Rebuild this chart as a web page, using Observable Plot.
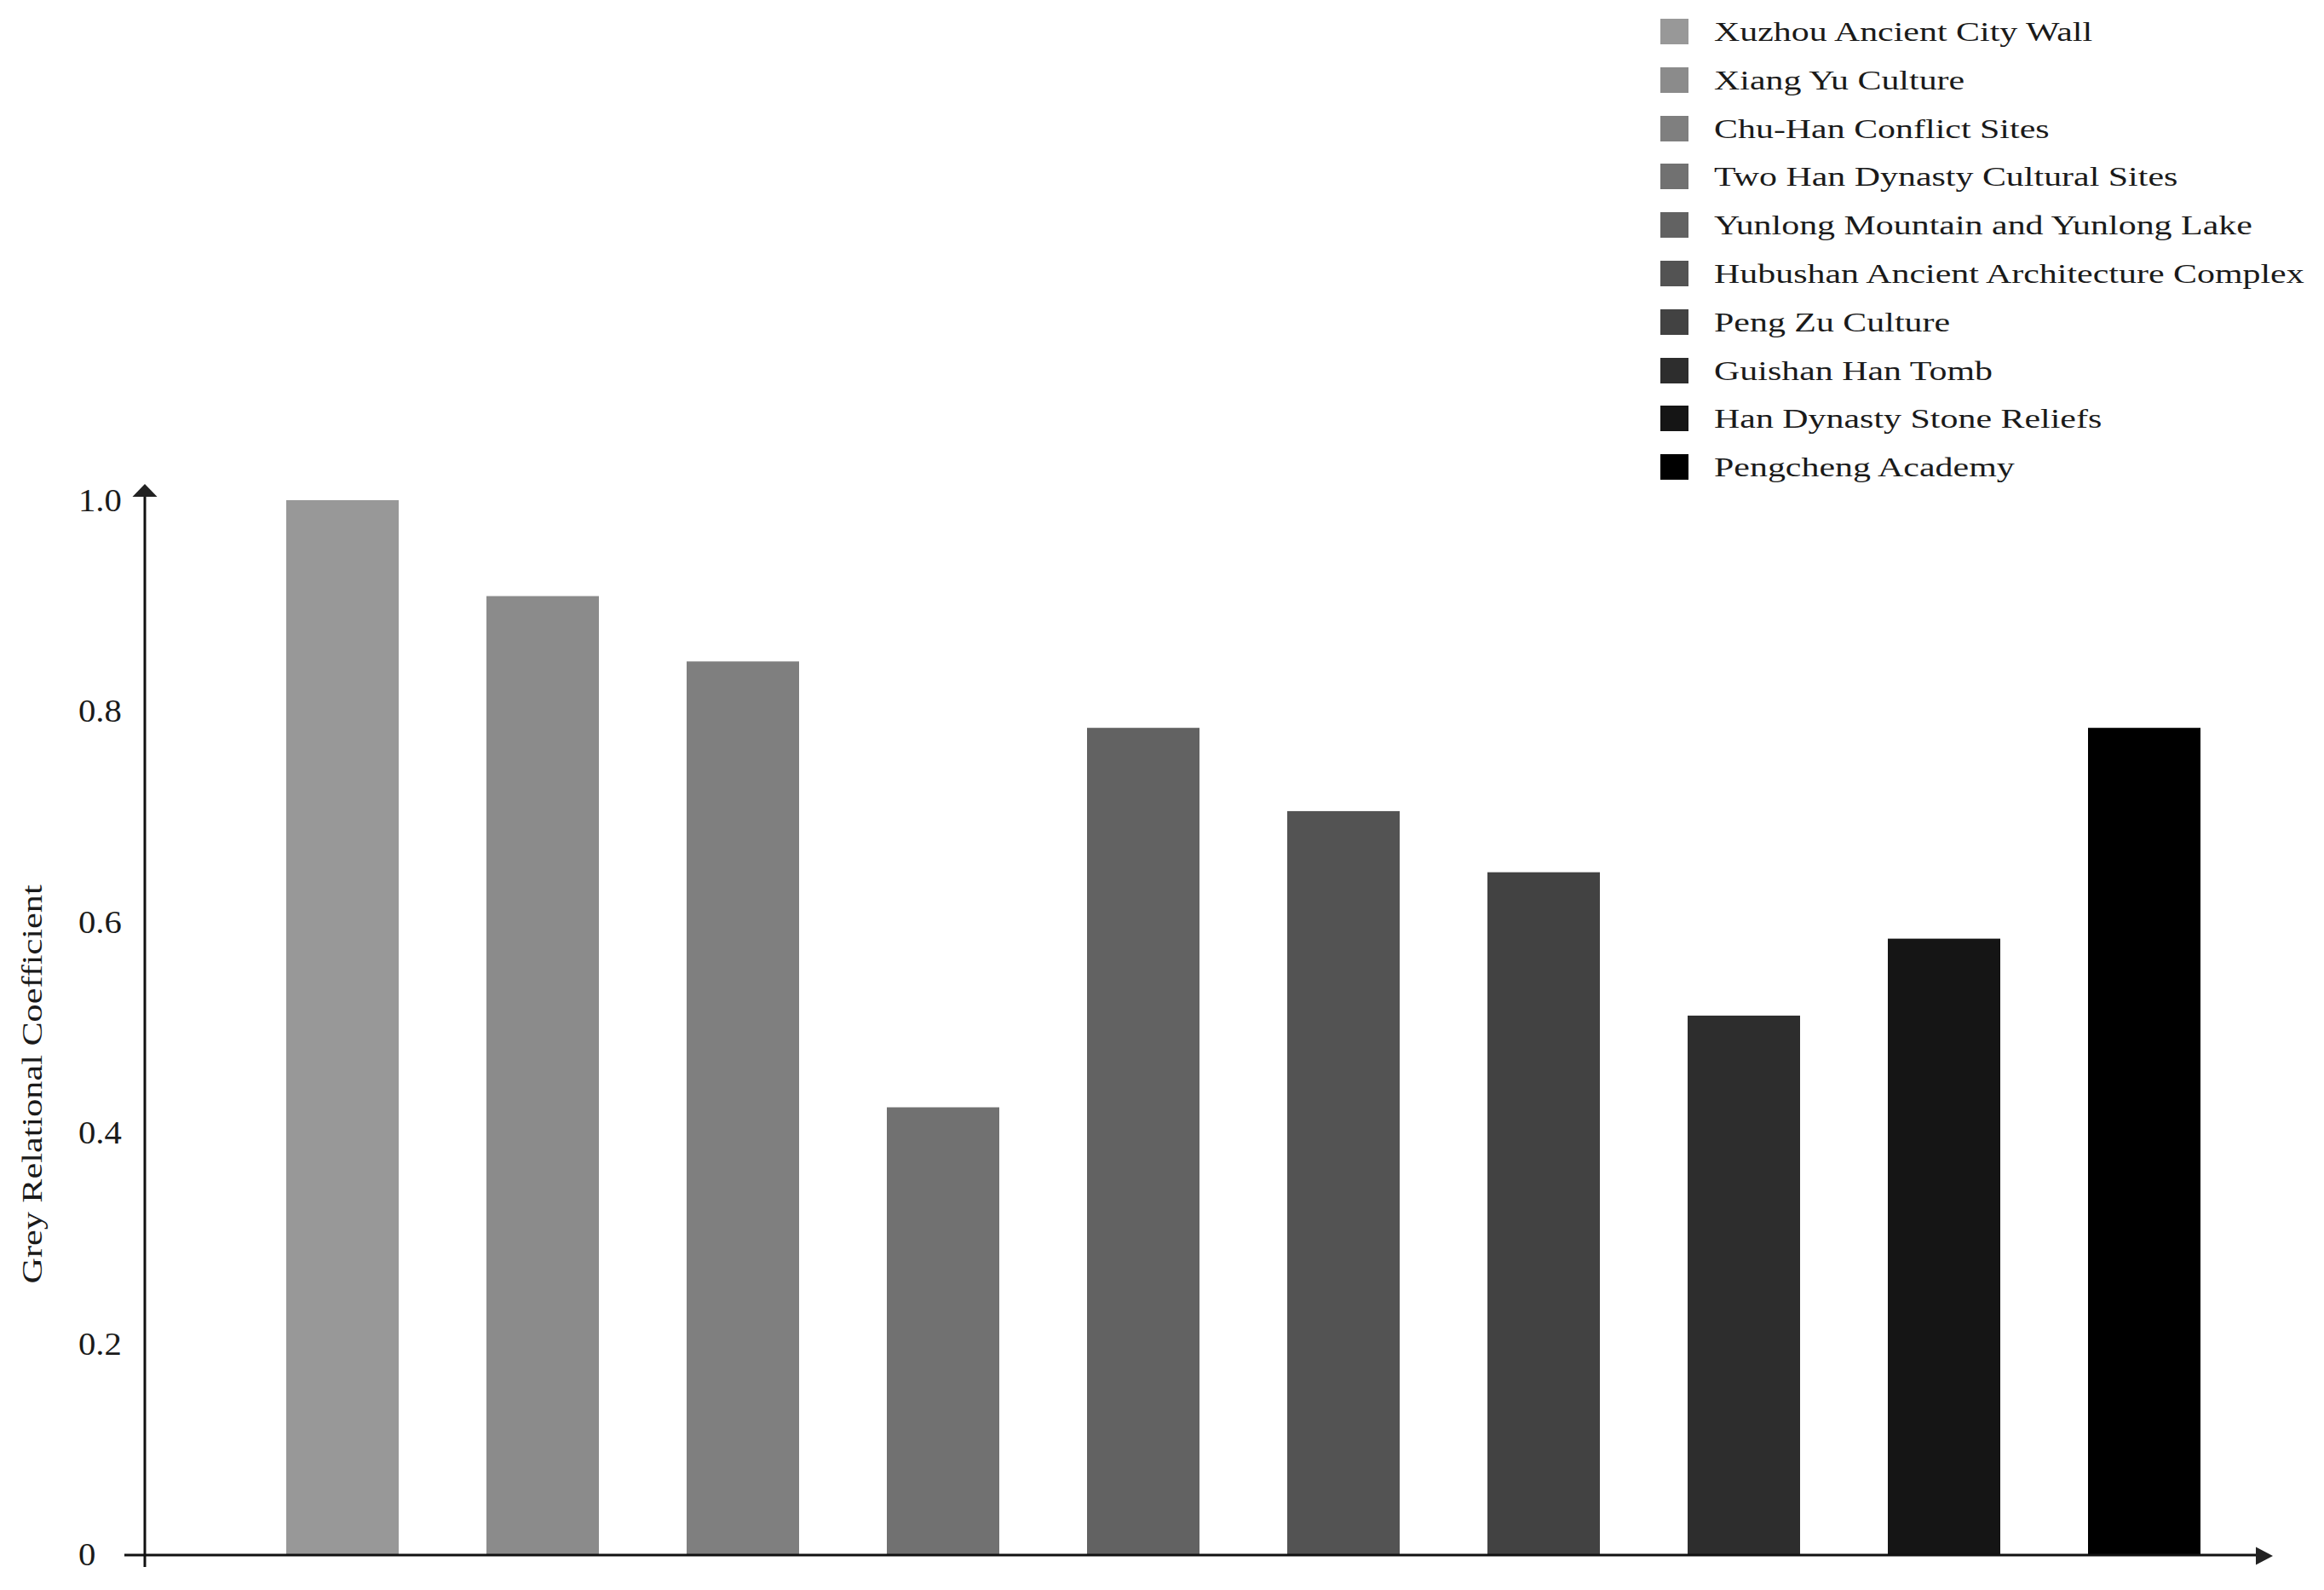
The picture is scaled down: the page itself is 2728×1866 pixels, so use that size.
<!DOCTYPE html>
<html>
<head>
<meta charset="utf-8">
<script src="https://cdn.jsdelivr.net/npm/d3@7"></script>
<script src="https://cdn.jsdelivr.net/npm/@observablehq/plot@0.6"></script>
<style>
  html, body { margin: 0; padding: 0; background: #fff; }
  #wrap { position: relative; width: 2728px; height: 1866px; overflow: hidden; }
  #legend { position: absolute; left: 1949px; top: 0; font-family: "Liberation Serif", "Times New Roman", serif; font-size: 32px; color: #1a1a1a; }
  .row { position: absolute; left: 0; height: 30px; white-space: nowrap; }
  .sw { position: absolute; left: 0; top: 0; width: 33px; height: 30px; }
  .lb { position: absolute; left: 63px; top: 0; line-height: 30px; transform: scaleX(1.31); transform-origin: left center; }
</style>
</head>
<body>
<div id="wrap"><div id="legend"></div></div>
<script>
// ---- data ----
const sites = [
  "Xuzhou Ancient City Wall",
  "Xiang Yu Culture",
  "Chu-Han Conflict Sites",
  "Two Han Dynasty Cultural Sites",
  "Yunlong Mountain and Yunlong Lake",
  "Hubushan Ancient Architecture Complex",
  "Peng Zu Culture",
  "Guishan Han Tomb",
  "Han Dynasty Stone Reliefs",
  "Pengcheng Academy"
];
const values = [1.000, 0.909, 0.847, 0.424, 0.784, 0.705, 0.647, 0.511, 0.584, 0.784];
const colors = ["#989898", "#8b8b8b", "#7f7f7f", "#717171", "#626262", "#535353", "#424242", "#2d2d2d", "#151515", "#000000"];
const tickValues = [0, 0.2, 0.4, 0.6, 0.8, 1.0];
const tickLabels = ["0", "0.2", "0.4", "0.6", "0.8", "1.0"];
const yLabel = "Grey Relational Coefficient";

const data = sites.map((s, i) => ({site: s, value: values[i]}));
const FONT = "'Liberation Serif', 'Times New Roman', serif";

// custom axis lines with arrowheads, tick labels and title, positioned from the scales
function axes(index, scales, vals, dims) {
  const g = d3.create("svg:g");
  const x0 = dims.marginLeft;
  const yZero = scales.y(0);
  const yOne = scales.y(1);
  const xEnd = dims.width - dims.marginRight;
  const col = "#111";
  // y axis
  g.append("line").attr("x1", x0).attr("x2", x0).attr("y1", yZero + 15).attr("y2", yOne - 8)
    .attr("stroke", col).attr("stroke-width", 3);
  g.append("path").attr("d", `M${x0},${yOne - 19}L${x0 - 14.5},${yOne - 4}L${x0 + 14.5},${yOne - 4}Z`).attr("fill", "#222");
  // x axis
  g.append("line").attr("x1", x0 - 24).attr("x2", xEnd - 12).attr("y1", yZero + 1).attr("y2", yZero + 1)
    .attr("stroke", col).attr("stroke-width", 3);
  g.append("path").attr("d", `M${xEnd},${yZero + 2}L${xEnd - 20},${yZero - 8.5}L${xEnd - 20},${yZero + 12.5}Z`).attr("fill", "#222");
  // tick labels
  tickValues.forEach((v, i) => {
    g.append("text")
      .attr("transform", `translate(${x0 - 78},${scales.y(v)}) scale(1.1,1)`)
      .attr("dy", "0.35em")
      .attr("text-anchor", "start")
      .attr("font-family", FONT).attr("font-size", 37).attr("fill", "#1a1a1a")
      .text(tickLabels[i]);
  });
  // axis title
  g.append("text")
    .attr("transform", `translate(49,${(yZero + yOne) / 2 + 67}) rotate(-90) scale(1.28,1)`)
    .attr("text-anchor", "middle")
    .attr("font-family", FONT).attr("font-size", 33).attr("fill", "#1a1a1a")
    .text(yLabel);
  return g.node();
}

const chart = Plot.plot({
  width: 2728,
  height: 1866,
  marginLeft: 170,
  marginRight: 60,
  marginTop: 587,
  marginBottom: 42,
  x: {domain: sites, paddingInner: 0.44, paddingOuter: 0.517, align: 0.66, axis: null},
  y: {domain: [0, 1], axis: null},
  color: {domain: sites, range: colors},
  style: {fontFamily: FONT, background: "transparent", color: "#1a1a1a"},
  marks: [
    Plot.barY(data, {x: "site", y: "value", fill: "site"}),
    axes
  ]
});

const wrap = document.getElementById("wrap");
chart.style.position = "absolute";
chart.style.left = "0";
chart.style.top = "0";
wrap.insertBefore(chart, wrap.firstChild);

// legend
const legend = d3.select("#legend");
sites.forEach((s, i) => {
  const row = legend.append("div").attr("class", "row").style("top", (22 + i * 56.8) + "px");
  row.append("div").attr("class", "sw").style("background", colors[i]);
  row.append("div").attr("class", "lb").text(s);
});
</script>
</body>
</html>
